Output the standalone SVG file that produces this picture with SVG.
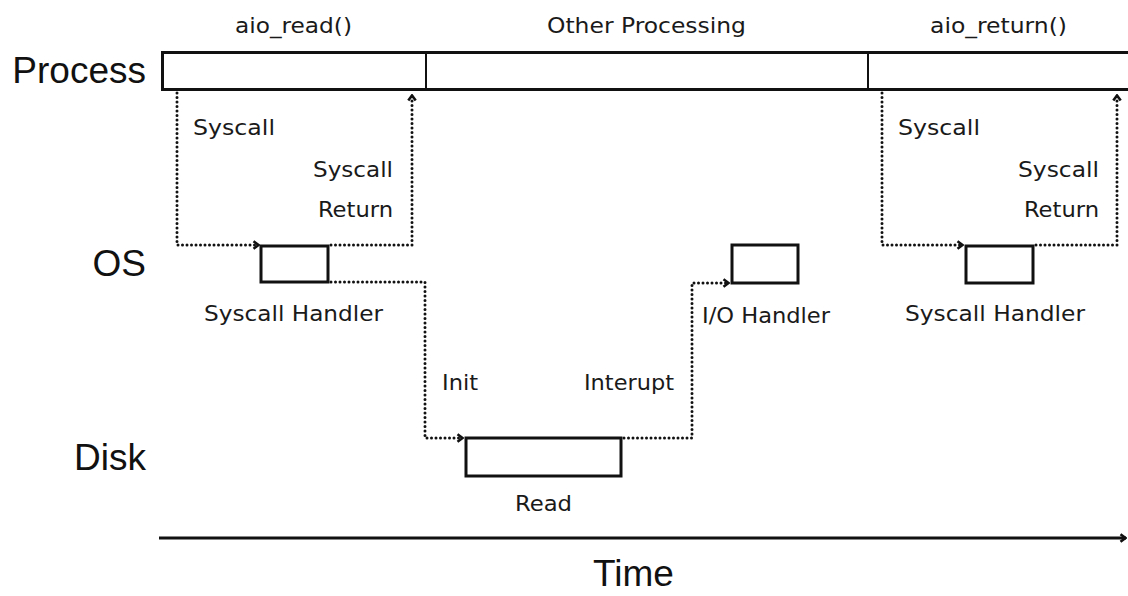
<svg xmlns="http://www.w3.org/2000/svg" width="1128" height="596" viewBox="0 0 1128 596">
<defs>
<style>
.big{font-family:"Liberation Sans",Arial,sans-serif;font-size:37px;fill:#111}
.lbl{font-family:"Liberation Sans Narrow","DejaVu Sans Condensed","Liberation Sans",sans-serif;font-size:22px;fill:#1a1a1a}
.box{fill:#fff;stroke:#111;stroke-width:3}
.dot{fill:none;stroke:#111;stroke-width:3;stroke-dasharray:0 4.5;stroke-linecap:round;stroke-linejoin:round}
.solid{fill:none;stroke:#111;stroke-width:2.8}
</style>
<marker id="chev" markerUnits="userSpaceOnUse" viewBox="0 0 10 10" markerWidth="10" markerHeight="10" refX="9" refY="5" orient="auto">
<path d="M3.5,1.3 L8.5,5 L3.5,8.7" fill="none" stroke="#111" stroke-width="2.6" stroke-dasharray="none" stroke-linejoin="miter"/>
</marker>
</defs>
<rect width="1128" height="596" fill="#fff"/>

<g id="lanes">
<text class="big" x="146" y="83" text-anchor="end">Process</text>
<text class="big" x="146" y="276" text-anchor="end">OS</text>
<text class="big" x="146" y="470" text-anchor="end">Disk</text>
</g>

<g id="process-bar">
<rect class="box" x="162.5" y="52.5" width="980" height="37"/>
<line x1="426" y1="52" x2="426" y2="90" stroke="#111" stroke-width="2"/>
<line x1="868" y1="52" x2="868" y2="90" stroke="#111" stroke-width="2"/>
<text class="lbl" x="235" y="33" textLength="117" lengthAdjust="spacingAndGlyphs">aio_read()</text>
<text class="lbl" x="547" y="33" textLength="199" lengthAdjust="spacingAndGlyphs">Other Processing</text>
<text class="lbl" x="930" y="33" textLength="137" lengthAdjust="spacingAndGlyphs">aio_return()</text>
</g>

<g id="syscall-handler-1">
<rect class="box" x="261" y="246" width="67" height="36"/>
<text class="lbl" x="204" y="321" textLength="179" lengthAdjust="spacingAndGlyphs">Syscall Handler</text>
</g>

<g id="read">
<rect class="box" x="466" y="438" width="155" height="38"/>
<text class="lbl" x="515" y="511" textLength="57" lengthAdjust="spacingAndGlyphs">Read</text>
</g>

<g id="io-handler">
<rect class="box" x="732" y="245" width="66" height="38"/>
<text class="lbl" x="702" y="323" textLength="128" lengthAdjust="spacingAndGlyphs">I/O Handler</text>
</g>

<g id="syscall-handler-2">
<rect class="box" x="966" y="246" width="67" height="37"/>
<text class="lbl" x="905" y="321" textLength="180" lengthAdjust="spacingAndGlyphs">Syscall Handler</text>
</g>

<g id="connectors">
<path class="dot" d="M177,93 V245 H259" marker-end="url(#chev)"/>
<path class="dot" d="M331,245 H412 V95" marker-end="url(#chev)"/>
<path class="dot" d="M331,282 H425 V438 H463" marker-end="url(#chev)"/>
<path class="dot" d="M624,438 H692 V283 H729" marker-end="url(#chev)"/>
<path class="dot" d="M882,93 V245 H963" marker-end="url(#chev)"/>
<path class="dot" d="M1036,245 H1117 V95" marker-end="url(#chev)"/>
<path class="solid" d="M159,538 H1126" marker-end="url(#chev)"/>
</g>

<g id="connector-labels">
<text class="lbl" x="193" y="135" textLength="82" lengthAdjust="spacingAndGlyphs">Syscall</text>
<text class="lbl" x="313" y="177" textLength="80" lengthAdjust="spacingAndGlyphs">Syscall</text>
<text class="lbl" x="318" y="217" textLength="75" lengthAdjust="spacingAndGlyphs">Return</text>
<text class="lbl" x="442" y="390" textLength="36" lengthAdjust="spacingAndGlyphs">Init</text>
<text class="lbl" x="584" y="390" textLength="90" lengthAdjust="spacingAndGlyphs">Interupt</text>
<text class="lbl" x="898" y="135" textLength="82" lengthAdjust="spacingAndGlyphs">Syscall</text>
<text class="lbl" x="1018" y="177" textLength="81" lengthAdjust="spacingAndGlyphs">Syscall</text>
<text class="lbl" x="1024" y="217" textLength="75" lengthAdjust="spacingAndGlyphs">Return</text>
</g>

<g id="time-axis">
<text class="big" x="593" y="586">Time</text>
</g>
</svg>
